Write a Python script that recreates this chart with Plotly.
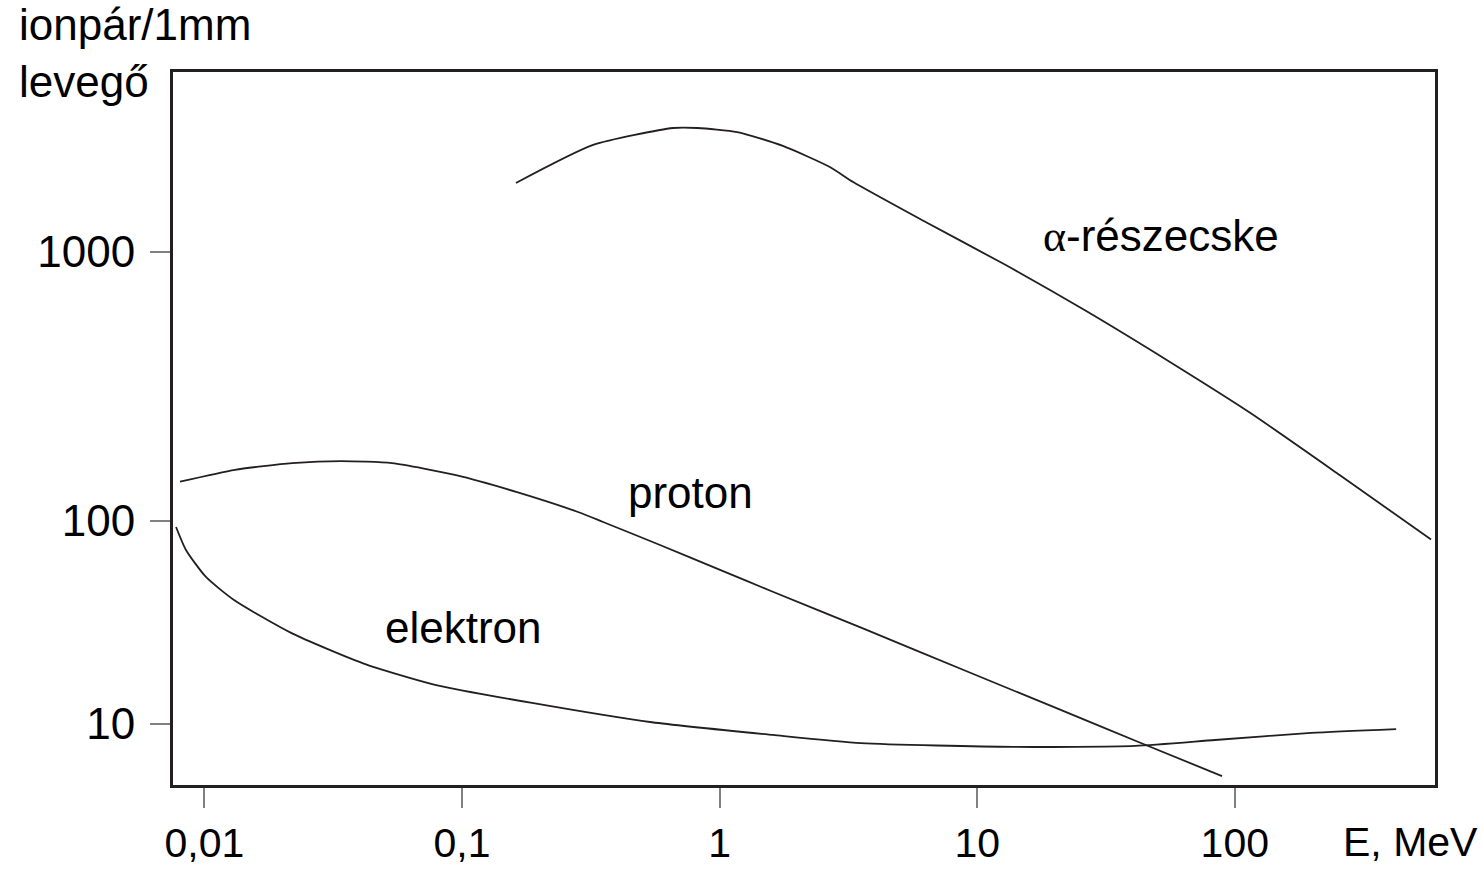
import numpy as np
import plotly.graph_objects as go

# ---------------- data (E in MeV, ion pairs per 1 mm of air) ----------------
ALPHA_E = [0.162, 0.323, 0.66, 0.82, 1.17, 1.76, 2.68, 3.3, 6.1, 12.7, 26.5, 56.0, 115, 256, 578]
ALPHA_ION = [1805, 2500, 2890, 2890, 2790, 2480, 2070, 1820, 1315, 902, 603, 390, 252, 148, 81]

PROTON_E = [0.00804, 0.01315, 0.0219, 0.0339, 0.0535, 0.0948, 0.1635, 0.282, 0.353, 0.587, 1.004, 1.583,
            3.64, 8.81, 20.2, 43.2, 89.2]
PROTON_ION = [140, 155, 164, 167, 164, 148, 128, 108, 98.9, 76.2, 57.4, 45.2, 29.4, 18.5, 12.0, 8.06, 5.54]

ELECTRON_E = [0.00776, 0.00848, 0.01014, 0.01303, 0.0217, 0.0413, 0.0786, 0.187, 0.546, 1.61, 3.54, 13.9,
              41.0, 83.8, 198, 423]
ELECTRON_ION = [93.4, 72.0, 53.0, 40.8, 28.1, 19.9, 15.6, 12.7, 10.2, 8.83, 8.05, 7.71, 7.80, 8.34, 9.04, 9.44]

X_TICK_VALUES = [0.01, 0.1, 1, 10, 100]
X_TICK_TEXT = ["0,01", "0,1", "1", "10", "100"]
Y_TICK_VALUES = [10, 100, 1000]
Y_TICK_TEXT = ["10", "100", "1000"]

# The original ordinate is a hand-drawn, non-uniform logarithmic scale:
# the 100 -> 1000 decade is drawn 269/203 times as tall as the 10 -> 100 decade.
Y_SCALE_LOG = [1.0, 2.0, 3.0]
Y_SCALE_POS = [0.0, 1.0, 1.0 + 269.0 / 203.0]


def y_axis_pos(values):
    lg = np.log10(np.asarray(values, dtype=float))
    pos = np.interp(lg, Y_SCALE_LOG, Y_SCALE_POS)
    lo = (Y_SCALE_POS[1] - Y_SCALE_POS[0]) / (Y_SCALE_LOG[1] - Y_SCALE_LOG[0])
    hi = (Y_SCALE_POS[-1] - Y_SCALE_POS[-2]) / (Y_SCALE_LOG[-1] - Y_SCALE_LOG[-2])
    pos = np.where(lg < Y_SCALE_LOG[0], Y_SCALE_POS[0] + (lg - Y_SCALE_LOG[0]) * lo, pos)
    pos = np.where(lg > Y_SCALE_LOG[-1], Y_SCALE_POS[-1] + (lg - Y_SCALE_LOG[-1]) * hi, pos)
    return pos


FONT = "Liberation Sans, Arial, Helvetica, sans-serif"
INK = "#231f20"

fig = go.Figure()
for name, xs, ys in [("α-részecske", ALPHA_E, ALPHA_ION),
                     ("proton", PROTON_E, PROTON_ION),
                     ("elektron", ELECTRON_E, ELECTRON_ION)]:
    fig.add_trace(go.Scatter(
        x=xs, y=y_axis_pos(ys), customdata=ys, name=name, mode="lines",
        line=dict(color=INK, width=1.8, shape="spline", smoothing=0.6),
        hovertemplate="E = %{x} MeV<br>%{customdata} ionpár/mm<extra>" + name + "</extra>",
    ))

fig.update_layout(
    width=1483, height=869,
    margin=dict(l=173, r=48, t=72, b=84, autoexpand=False),
    paper_bgcolor="white", plot_bgcolor="white",
    showlegend=False,
    font=dict(family=FONT, size=44, color="black"),
)

fig.update_xaxes(
    type="log", range=[-2.1219, 2.7772], automargin=False,
    tickmode="array", tickvals=X_TICK_VALUES, ticktext=X_TICK_TEXT,
    ticks="outside", ticklen=20, tickwidth=1.5, tickcolor="#808080",
    ticklabelstandoff=0,
    showgrid=False, zeroline=False,
    showline=True, linewidth=3, linecolor=INK, mirror=True,
    tickfont=dict(family=FONT, size=41, color="black"),
)
fig.update_yaxes(
    type="linear", range=[-0.3005, 3.2118], automargin=False,
    tickmode="array", tickvals=list(y_axis_pos(Y_TICK_VALUES)), ticktext=Y_TICK_TEXT,
    ticks="outside", ticklen=20, tickwidth=1.5, tickcolor="#808080",
    ticklabelstandoff=6,
    showgrid=False, zeroline=False,
    showline=True, linewidth=3, linecolor=INK, mirror=True,
    tickfont=dict(family=FONT, size=44, color="black"),
)

labels = [
    ("<span style=\"font-family:'Liberation Serif', 'Times New Roman', serif\">α</span>-részecske",
     0.7829, 0.7693, "center", 44),
    ("proton", 0.4097, 0.4109, "center", 44),
    ("elektron", 0.2298, 0.2209, "center", 44),
    ("ionpár/1mm", -0.1236, 1.0673, "left", 44),
    ("levegő", -0.1236, 0.986, "left", 44),
    ("E, MeV", 0.9802, -0.0800, "center", 41),
]
for text, x, y, xa, fs in labels:
    fig.add_annotation(text=text, x=x, y=y, xref="paper", yref="paper",
                       xanchor=xa, yanchor="middle", showarrow=False,
                       font=dict(family=FONT, size=fs, color="black"))

fig.write_html("out.html", config={"displayModeBar": False},
               post_script="document.body.style.margin='0';document.body.style.overflow='hidden';")
